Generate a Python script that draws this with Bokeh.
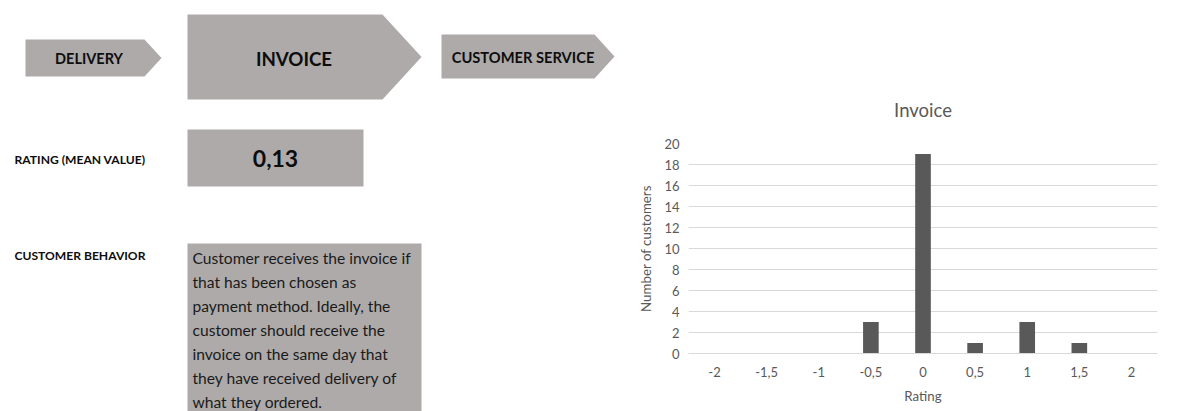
from bokeh.plotting import figure
from bokeh.models import Range1d, FixedTicker, CustomJSTickFormatter
from bokeh.layouts import row
from bokeh.core.properties import value
from bokeh.embed import file_html
from bokeh.resources import INLINE

# ---------------- data ----------------
ratings = [-2, -1.5, -1, -0.5, 0, 0.5, 1, 1.5, 2]
customers = [0, 0, 0, 3, 19, 1, 3, 1, 0]
y_ticks = [0, 2, 4, 6, 8, 10, 12, 14, 16, 18, 20]
chart_title = "Invoice"
x_title = "Rating"
y_title = "Number of customers"

stages = ["DELIVERY", "INVOICE", "CUSTOMER SERVICE"]
rating_label = "RATING (MEAN VALUE)"
mean_rating = "0,13"
behavior_label = "CUSTOMER BEHAVIOR"
behavior_lines = [
    "Customer receives the invoice if",
    "that has been chosen as",
    "payment method. Ideally, the",
    "customer should receive the",
    "invoice on the same day that",
    "they have received delivery of",
    "what they ordered.",
]

BOX = "#AEAAAA"
FONT = "Lato"
H = 411
LW = 630            # width of the infographic panel
CW = 1187 - LW      # width of the chart panel
STEP = 0.5


def no_align(fig):
    if "frame_align" in fig.properties():
        fig.frame_align = False


# ---------------- left panel (infographic, page-pixel coordinates) ----------------
left = figure(width=LW, height=H, x_range=Range1d(0, LW), y_range=Range1d(H, 0),
              output_backend="svg", toolbar_location=None, min_border=0,
              x_axis_location=None, y_axis_location=None)
left.grid.visible = False
left.outline_line_color = None
left.background_fill_color = "white"
left.border_fill_color = "white"
no_align(left)


def chevron(x0, x1, tip, y0, y1):
    return [x0, x1, tip, x1, x0], [y0, y0, (y0 + y1) / 2, y1, y1]


shapes = [chevron(25, 144, 161, 39, 76), chevron(187, 382, 421, 14, 99), chevron(441, 594, 614, 34, 78)]
left.patches([s[0] for s in shapes], [s[1] for s in shapes], fill_color=BOX, line_color=None)
left.quad(left=[187, 187], right=[363, 421], top=[129, 243], bottom=[186, 420],
          fill_color=BOX, line_color=None)

stage_x = [88.5, 293.5, 522.5]
stage_y = [58, 58, 56]
stage_sizes = ["14.5px", "18.7px", "14.7px"]
for t, x, y, s in zip(stages, stage_x, stage_y, stage_sizes):
    left.text(x=[x], y=[y], text=[t], text_font=value(FONT), text_font_style="bold",
              text_font_size=s, text_align="center", text_baseline="middle", text_color="#0d0d0d")

left.text(x=[275], y=[158], text=[mean_rating], text_font=value(FONT), text_font_style="bold",
          text_font_size="23px", text_align="center", text_baseline="middle", text_color="#0d0d0d")
left.text(x=[14, 14], y=[159, 255], text=[rating_label, behavior_label], text_font=value(FONT),
          text_font_style="bold", text_font_size="12.1px", text_align="left", text_baseline="middle",
          text_color="#0d0d0d")
line_y = [257 + 24 * i for i in range(len(behavior_lines))]
left.text(x=[192] * len(behavior_lines), y=line_y, text=behavior_lines, text_font=value(FONT),
          text_font_size="15.6px", text_align="left", text_baseline="middle", text_color="#1a1a1a")

# ---------------- right panel (bar chart) ----------------
p = figure(width=CW, height=H, x_range=Range1d(ratings[0] - STEP / 2, ratings[-1] + STEP / 2),
           y_range=Range1d(0, 20), output_backend="svg", toolbar_location=None,
           min_border_left=58, min_border_right=30, min_border_top=143, min_border_bottom=58)
p.outline_line_color = None
p.background_fill_color = "white"
p.border_fill_color = "white"
no_align(p)

p.vbar(x=ratings, top=customers, width=STEP * 0.3, fill_color="#595959", line_color=None)

p.title.text = chart_title
p.title.align = "center"
p.title.text_font = FONT
p.title.text_font_style = "normal"
p.title.text_font_size = "18.5px"
p.title.text_color = "#595959"
p.title.standoff = 46

p.xgrid.visible = False
p.ygrid.grid_line_color = "#d9d9d9"
p.ygrid.grid_line_width = 1

p.yaxis.ticker = FixedTicker(ticks=y_ticks)
p.xaxis.ticker = FixedTicker(ticks=ratings)
p.xaxis.formatter = CustomJSTickFormatter(code="return String(tick).replace('.', ',');")
for ax in (p.xaxis[0], p.yaxis[0]):
    ax.major_tick_line_color = None
    ax.minor_tick_line_color = None
    ax.major_tick_out = 0
    ax.major_tick_in = 0
    ax.major_label_text_font = FONT
    ax.major_label_text_font_size = "13px"
    ax.major_label_text_color = "#595959"
    ax.axis_label_text_font = FONT
    ax.axis_label_text_font_size = "13.3px"
    ax.axis_label_text_font_style = "normal"
    ax.axis_label_text_color = "#595959"

p.yaxis.axis_line_color = None
p.xaxis.axis_line_color = "#d9d9d9"
p.yaxis.axis_label = y_title
p.xaxis.axis_label = x_title
p.yaxis.major_label_standoff = 9
p.yaxis.axis_label_standoff = 7
p.xaxis.major_label_standoff = 13
p.xaxis.axis_label_standoff = 8

layout = row(left, p)
open("out.html", "w").write(file_html(layout, INLINE))
